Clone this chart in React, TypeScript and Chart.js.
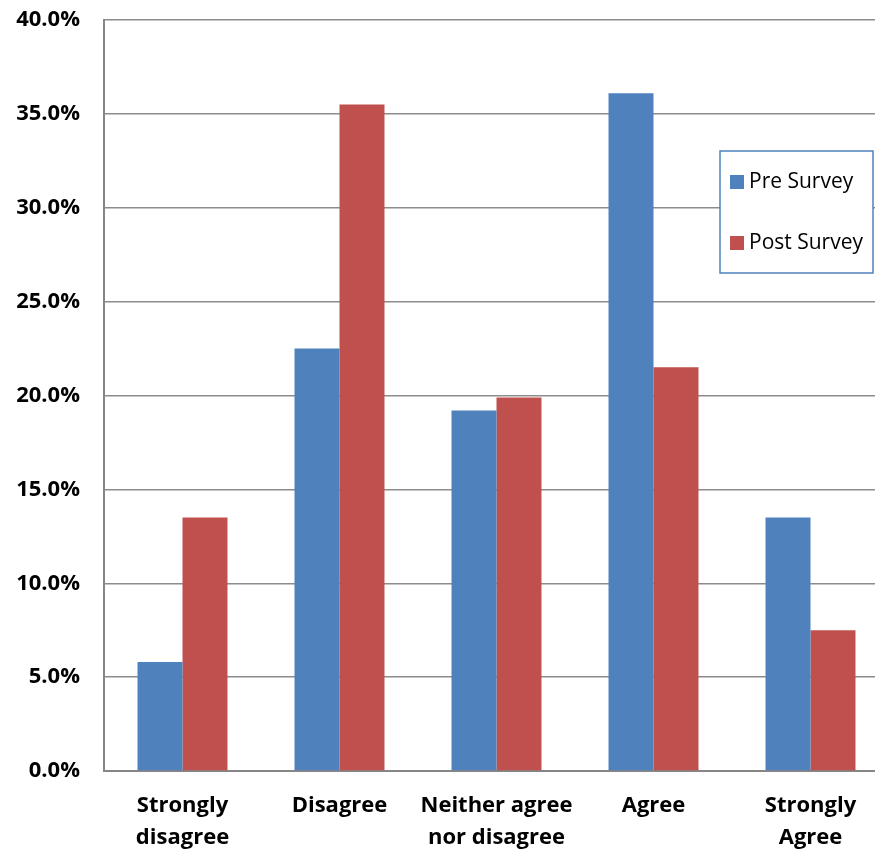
import React, { useEffect, useRef } from "react";
import { Chart, registerables } from "chart.js";

Chart.register(...registerables);

const categories: string[][] = [
  ["Strongly", "disagree"],
  ["Disagree"],
  ["Neither agree", "nor disagree"],
  ["Agree"],
  ["Strongly", "Agree"],
];
const preSurvey = [5.8, 22.5, 19.2, 36.1, 13.5];
const postSurvey = [13.5, 35.5, 19.9, 21.5, 7.5];
const seriesNames = ["Pre Survey", "Post Survey"];
const seriesColors = ["#4F81BD", "#C0504D"];

const FONT = "'Open Sans', sans-serif";

const legendBox = {
  id: "legendBox",
  afterDraw(chart: any) {
    const ctx = chart.ctx;
    const x = 720, y = 151, w = 153, h = 122;
    ctx.save();
    ctx.fillStyle = "#ffffff";
    ctx.fillRect(x, y, w, h);
    ctx.strokeStyle = "#4F81BD";
    ctx.lineWidth = 1.5;
    ctx.strokeRect(x, y, w, h);
    ctx.font = `21px ${FONT}`;
    ctx.textBaseline = "middle";
    chart.data.datasets.forEach((ds: any, i: number) => {
      const cy = y + 31 + i * 61;
      ctx.fillStyle = ds.backgroundColor;
      ctx.fillRect(x + 10, cy - 7, 14, 14);
      ctx.fillStyle = "#000";
      ctx.fillText(ds.label, x + 29, cy);
    });
    ctx.restore();
  },
};

const W = 889;

export default function App() {
  const ref = useRef<HTMLCanvasElement>(null);
  useEffect(() => {
    document.body.style.margin = "0";
    const chart = new Chart(ref.current!, {
      type: "bar",
      data: {
        labels: categories,
        datasets: [
          { label: seriesNames[0], data: preSurvey, backgroundColor: seriesColors[0] },
          { label: seriesNames[1], data: postSurvey, backgroundColor: seriesColors[1] },
        ],
      },
      options: {
        animation: false,
        responsive: false,
        layout: { padding: { top: 20, right: 0, left: 0, bottom: 0 } },
        plugins: { legend: { display: false }, tooltip: { enabled: false } },
        datasets: { bar: { categoryPercentage: 0.573, barPercentage: 1 } },
        scales: {
          x: {
            grid: { display: false, drawTicks: false },
            border: { color: "#868686", width: 2 },
            ticks: {
              color: "#000",
              font: { family: FONT, size: 22, weight: "bold", lineHeight: 1.45 },
              padding: 19,
              maxRotation: 0,
            },
            afterFit(scale: any) {
              scale.height = 81;
              scale.paddingLeft = 0;
              scale.paddingRight = 0;
            },
          },
          y: {
            min: 0,
            max: 40,
            ticks: {
              stepSize: 5,
              color: "#000",
              font: { family: FONT, size: 22, weight: "bold" },
              padding: 24,
              callback: (v: any) => Number(v).toFixed(1) + "%",
            },
            grid: { color: "#8C8C8C", lineWidth: 1.5, drawTicks: false },
            border: { color: "#868686", width: 2 },
            afterFit(scale: any) {
              scale.width = 104;
              scale.paddingTop = 0;
              scale.paddingBottom = 0;
            },
          },
        },
      },
      plugins: [legendBox],
    });
    return () => chart.destroy();
  }, []);
  return (
    <div style={{ position: "absolute", left: 0, top: 0, width: 875, height: 852, overflow: "hidden" }}>
      <canvas ref={ref} width={W} height={852} style={{ width: W, height: 852 }} />
    </div>
  );
}
